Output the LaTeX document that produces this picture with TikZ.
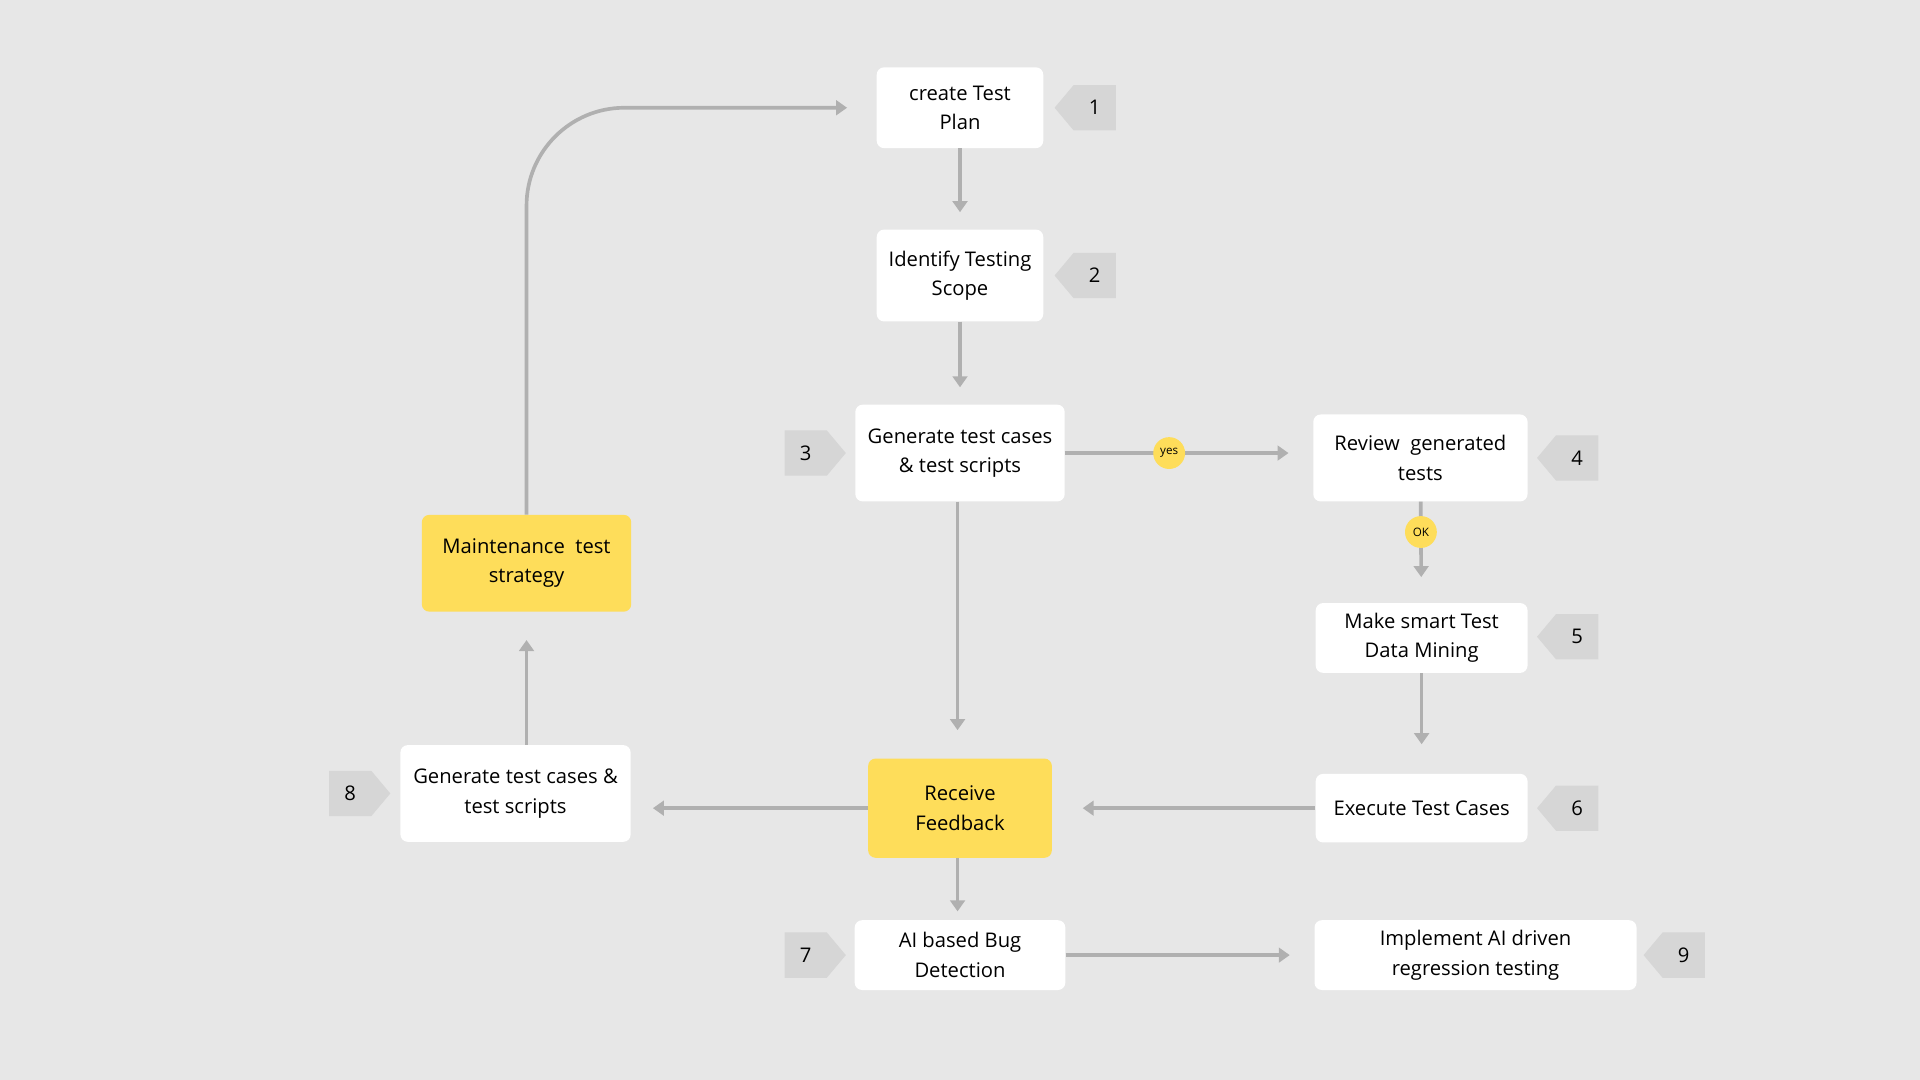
\documentclass[tikz,border=0pt]{standalone}
\usepackage{fontspec}
\setmainfont{Open Sans}
\usetikzlibrary{arrows.meta,shapes.symbols}
\definecolor{bgcol}{HTML}{E7E7E7}
\definecolor{yel}{HTML}{FEDD5A}
\definecolor{tagcol}{HTML}{D6D6D6}
\definecolor{linecol}{HTML}{B0B0B0}
\begin{document}
\begin{tikzpicture}[x=1pt, y=-1pt, font=\fontsize{16.5}{24}\selectfont]
        \tikzset{Step/.style={shape=rectangle, fill=white, rounded corners=6pt, align=center, inner sep=0pt}}
        \tikzset{Hot/.style={Step, fill=yel}}
        \tikzset{TagL/.style={shape=signal, signal to=west, signal pointer angle=100, fill=tagcol, minimum width=50pt, minimum height=37pt, inner sep=0pt}}
        \tikzset{TagR/.style={TagL, signal to=east}}
        \tikzset{Dot/.style={shape=circle, fill=yel, minimum size=26pt, inner sep=0pt, font=\fontsize{9.5}{10}\selectfont}}
        \tikzset{Flow/.style={draw=linecol, line width=3pt, -{Triangle[length=9pt,width=12pt]}}}
        \fill[bgcol] (0,0) rectangle (1568,882);
        \useasboundingbox (0,0) rectangle (1568,882);

        % nodes
        \node[Step, minimum width=136pt, minimum height=66pt] (plan) at (784, 88) {create Test\\Plan};
        \node[TagL] (t1) at (894, 88) {1};
        \node[Step, minimum width=136pt, minimum height=75pt] (scope) at (784, 225) {Identify Testing\\Scope};
        \node[TagL] (t2) at (894, 225) {2};
        \node[Step, minimum width=171pt, minimum height=79pt] (gen) at (784, 370) {Generate test cases\\\& test scripts};
        \node[TagR] (t3) at (658, 370) {3};
        \node[Step, minimum width=175pt, minimum height=71pt] (review) at (1160, 374) {Review~ generated\\tests};
        \node[TagL] (t4) at (1288, 374) {4};
        \node[Step, minimum width=173pt, minimum height=57pt] (mine) at (1161, 521) {Make smart Test\\Data Mining};
        \node[TagL] (t5) at (1288, 520) {5};
        \node[Step, minimum width=173pt, minimum height=56pt] (exec) at (1161, 660) {Execute Test Cases};
        \node[TagL] (t6) at (1288, 660) {6};
        \node[Hot, minimum width=150pt, minimum height=81pt] (fb) at (784, 660) {Receive\\Feedback};
        \node[Step, minimum width=172pt, minimum height=57pt] (bug) at (784, 780) {AI based Bug\\Detection};
        \node[TagR] (t7) at (658, 780) {7};
        \node[Step, minimum width=263pt, minimum height=57pt] (regr) at (1205, 780) {Implement AI driven\\regression testing};
        \node[TagL] (t9) at (1375, 780) {9};
        \node[Step, minimum width=188pt, minimum height=79pt] (gen2) at (421, 648) {Generate test cases \&\\test scripts};
        \node[TagR] (t8) at (286, 648) {8};
        \node[Hot, minimum width=171pt, minimum height=79pt] (maint) at (430, 460) {Maintenance~ test\\strategy};
        \coordinate (corner) at (430, 88);

        % arrows
        \draw[Flow, shorten >=14pt] (plan) -- (scope);
        \draw[Flow, shorten >=14pt] (scope) -- (gen);
        \draw[Flow, shorten >=20pt] (gen.east |- 0,370) -- (review.west |- 0,370) node[Dot, pos=0.42] {yes};
        \draw[Flow, shorten >=21pt] (review) -- (mine) node[Dot, pos=0.3] {OK};
        \draw[Flow, shorten >=24pt] (mine) -- (exec);
        \draw[Flow, shorten >=25pt] (exec) -- (fb);
        \draw[Flow, shorten >=23pt] (gen.south -| 782,0) -- (fb.north -| 782,0);
        \draw[Flow, shorten >=7pt] (fb.south -| 782,0) -- (bug.north -| 782,0);
        \draw[Flow, shorten >=20pt] (bug) -- (regr);
        \draw[Flow, shorten >=18pt] (fb.west) -- (gen2.east |- fb.west);
        \draw[Flow, shorten >=23pt] (gen2.north -| maint) -- (maint);
        \draw[Flow, shorten >=24pt, rounded corners=80pt] (maint) -- (corner) -- (plan);
    \end{tikzpicture}
\end{document}
